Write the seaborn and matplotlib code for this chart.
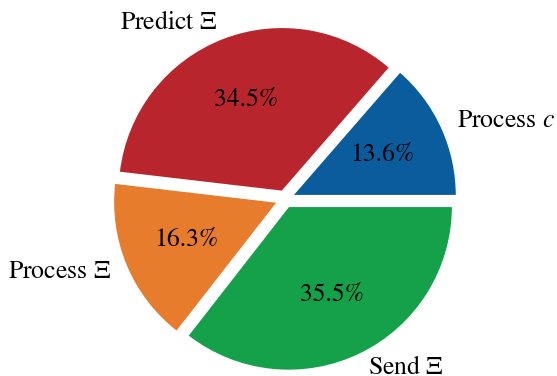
import matplotlib
matplotlib.use("Agg")
import matplotlib.pyplot as plt
import seaborn as sns

# Share of time per stage
stages = ["Process $c$", "Predict $\\Xi$", "Process $\\Xi$", "Send $\\Xi$"]
shares = [13.6, 34.5, 16.3, 35.5]
stage_colors = ["#0B5C9D", "#B9252D", "#E67C2C", "#15A04A"]

sns.set_theme(style="white")
plt.rcParams["font.family"] = ["STIXGeneral", "DejaVu Serif"]
plt.rcParams["mathtext.fontset"] = "stix"
plt.rcParams["text.color"] = "black"

palette = sns.color_palette(stage_colors)

fig = plt.figure(figsize=(5.57, 3.76), dpi=100)
ax = fig.add_axes([0, 0, 1, 1])
ax.pie(
    shares,
    labels=stages,
    colors=palette,
    explode=[0.05] * len(shares),
    autopct="%1.1f%%",
    startangle=0,
    counterclock=True,
    textprops={"fontsize": 18.5, "color": "black"},
)
ax.set_aspect("equal")
ax.set_xlim(-285 / 164, (557 - 285) / 164)
ax.set_ylim(-177 / 164, 199 / 164)
ax.axis("off")

fig.savefig("out.png", dpi=100)
